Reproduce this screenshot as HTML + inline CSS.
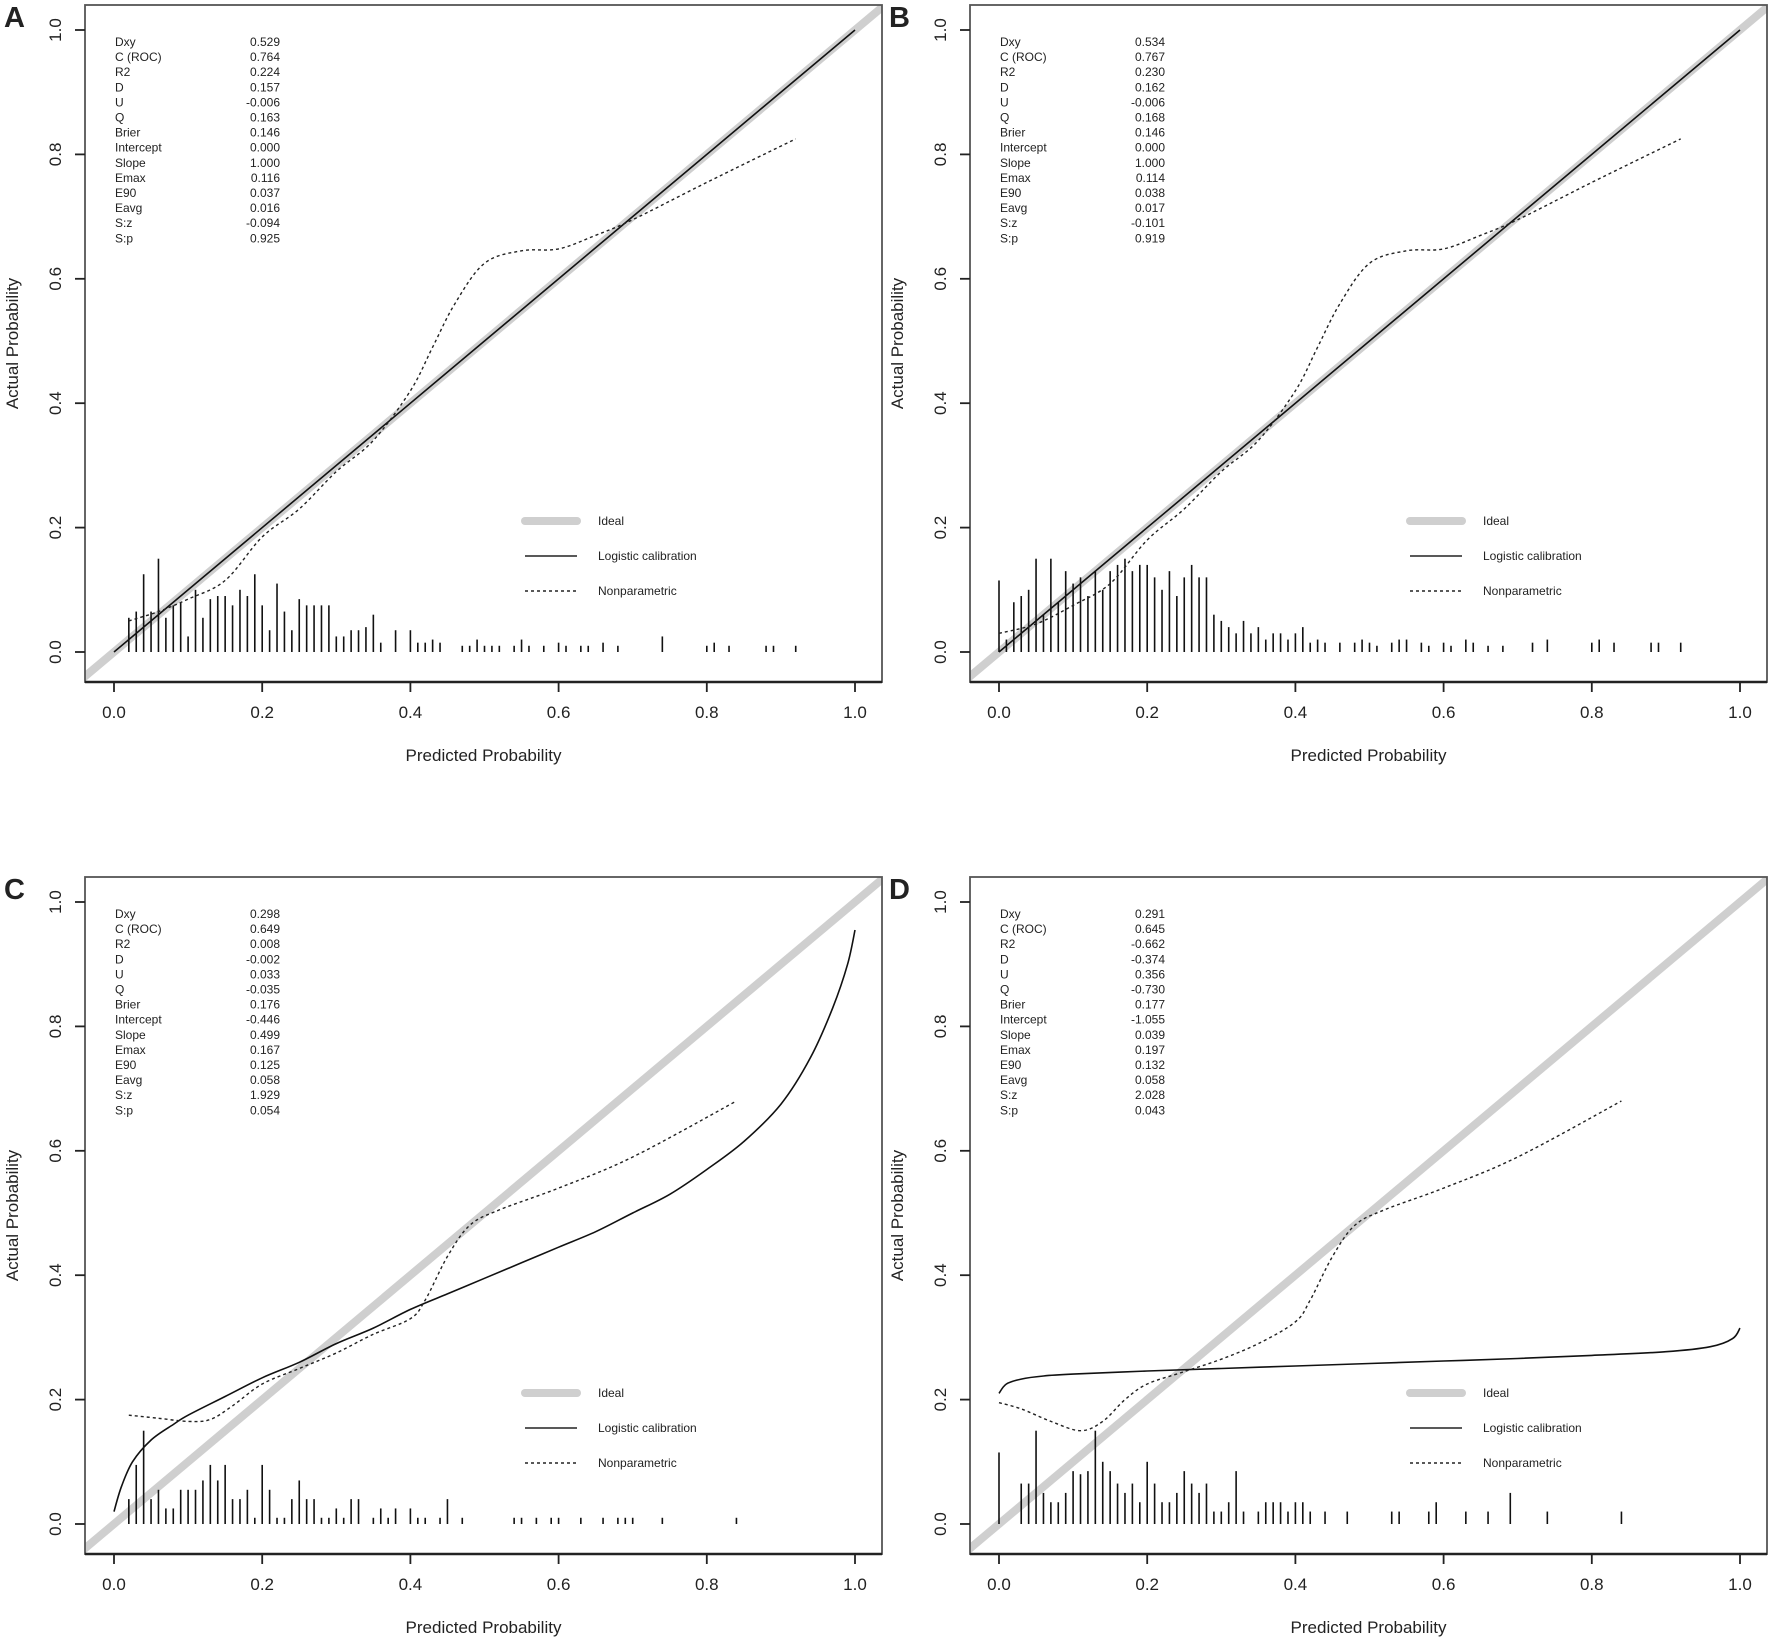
<!DOCTYPE html>
<html><head><meta charset="utf-8"><style>
html,body{margin:0;padding:0;background:#fff}
svg{display:block}
text{font-family:"Liberation Sans",Arial,sans-serif;fill:#222}
</style></head><body>
<svg id="s" width="1772" height="1642" viewBox="0 0 1772 1642" xmlns="http://www.w3.org/2000/svg"></svg>
<script>
const S=document.getElementById('s');let h='';
const panels=[
 {L:'A',ox:0,oy:0,stats:['0.529','0.764','0.224','0.157','-0.006','0.163','0.146','0.000','1.000','0.116','0.037','0.016','-0.094','0.925'],
  log:[[0,0],[1,1]],
  np:[[0.02,0.05],[0.06,0.065],[0.1,0.085],[0.15,0.115],[0.2,0.185],[0.25,0.23],[0.3,0.29],[0.35,0.34],[0.4,0.42],[0.43,0.49],[0.46,0.56],[0.5,0.625],[0.55,0.645],[0.6,0.648],[0.65,0.67],[0.7,0.695],[0.8,0.755],[0.92,0.825]],
  rug:[[.02,.055],[.03,.065],[.04,.125],[.05,.065],[.06,.15],[.07,.055],[.08,.075],[.09,.08],[.10,.025],[.11,.10],[.12,.055],[.13,.085],[.14,.09],[.15,.09],[.16,.075],[.17,.10],[.18,.09],[.19,.125],[.20,.075],[.21,.035],[.22,.11],[.23,.065],[.24,.035],[.25,.085],[.26,.075],[.27,.075],[.28,.075],[.29,.075],[.30,.025],[.31,.025],[.32,.035],[.33,.035],[.34,.04],[.35,.06],[.36,.015],[.38,.035],[.40,.035],[.41,.015],[.42,.015],[.43,.02],[.44,.015],[.47,.01],[.48,.01],[.49,.02],[.50,.01],[.51,.01],[.52,.01],[.54,.01],[.55,.02],[.56,.01],[.58,.01],[.60,.015],[.61,.01],[.63,.01],[.64,.01],[.66,.015],[.68,.01],[.74,.025],[.80,.01],[.81,.015],[.83,.01],[.88,.01],[.89,.01],[.92,.01]]},
 {L:'B',ox:885,oy:0,stats:['0.534','0.767','0.230','0.162','-0.006','0.168','0.146','0.000','1.000','0.114','0.038','0.017','-0.101','0.919'],
  log:[[0,0],[1,1]],
  np:[[0,0.03],[0.05,0.045],[0.1,0.075],[0.15,0.11],[0.2,0.18],[0.25,0.23],[0.3,0.29],[0.35,0.34],[0.4,0.42],[0.43,0.49],[0.46,0.56],[0.5,0.625],[0.55,0.645],[0.6,0.648],[0.65,0.67],[0.7,0.695],[0.8,0.755],[0.92,0.825]],
  rug:[[0,.115],[.01,.02],[.02,.08],[.03,.09],[.04,.10],[.05,.15],[.06,.06],[.07,.15],[.08,.08],[.09,.13],[.10,.11],[.11,.12],[.12,.09],[.13,.13],[.14,.10],[.15,.13],[.16,.14],[.17,.15],[.18,.13],[.19,.14],[.20,.14],[.21,.12],[.22,.10],[.23,.13],[.24,.09],[.25,.12],[.26,.14],[.27,.12],[.28,.12],[.29,.06],[.30,.05],[.31,.04],[.32,.03],[.33,.05],[.34,.03],[.35,.04],[.36,.02],[.37,.03],[.38,.03],[.39,.02],[.40,.03],[.41,.04],[.42,.015],[.43,.02],[.44,.015],[.46,.015],[.48,.015],[.49,.02],[.50,.015],[.51,.01],[.53,.015],[.54,.02],[.55,.02],[.57,.015],[.58,.01],[.60,.015],[.61,.01],[.63,.02],[.64,.015],[.66,.01],[.68,.01],[.72,.015],[.74,.02],[.80,.015],[.81,.02],[.83,.015],[.88,.015],[.89,.015],[.92,.015]]},
 {L:'C',ox:0,oy:872,stats:['0.298','0.649','0.008','-0.002','0.033','-0.035','0.176','-0.446','0.499','0.167','0.125','0.058','1.929','0.054'],
  log:[[0,0.02],[0.01,0.06],[0.025,0.1],[0.05,0.135],[0.08,0.16],[0.1,0.175],[0.15,0.205],[0.2,0.235],[0.25,0.26],[0.3,0.29],[0.35,0.315],[0.4,0.345],[0.45,0.37],[0.5,0.395],[0.55,0.42],[0.6,0.445],[0.65,0.47],[0.7,0.5],[0.75,0.53],[0.8,0.57],[0.85,0.615],[0.9,0.675],[0.94,0.75],[0.97,0.83],[0.99,0.9],[1.0,0.955]],
  np:[[0.02,0.175],[0.06,0.17],[0.1,0.165],[0.13,0.168],[0.16,0.19],[0.2,0.225],[0.25,0.25],[0.3,0.275],[0.35,0.305],[0.4,0.33],[0.42,0.36],[0.45,0.43],[0.48,0.48],[0.52,0.505],[0.6,0.54],[0.7,0.59],[0.84,0.68]],
  rug:[[.02,.04],[.03,.095],[.04,.15],[.05,.04],[.06,.055],[.07,.025],[.08,.025],[.09,.055],[.10,.055],[.11,.055],[.12,.07],[.13,.095],[.14,.07],[.15,.095],[.16,.04],[.17,.04],[.18,.055],[.19,.01],[.20,.095],[.21,.055],[.22,.01],[.23,.01],[.24,.04],[.25,.07],[.26,.04],[.27,.04],[.28,.01],[.29,.01],[.30,.025],[.31,.01],[.32,.04],[.33,.04],[.35,.01],[.36,.025],[.37,.01],[.38,.025],[.40,.025],[.41,.01],[.42,.01],[.44,.01],[.45,.04],[.47,.01],[.54,.01],[.55,.01],[.57,.01],[.59,.01],[.60,.01],[.63,.01],[.66,.01],[.68,.01],[.69,.01],[.70,.01],[.74,.01],[.84,.01]]},
 {L:'D',ox:885,oy:872,stats:['0.291','0.645','-0.662','-0.374','0.356','-0.730','0.177','-1.055','0.039','0.197','0.132','0.058','2.028','0.043'],
  log:[[0,0.21],[0.01,0.225],[0.03,0.233],[0.06,0.238],[0.1,0.241],[0.2,0.246],[0.3,0.25],[0.4,0.254],[0.5,0.258],[0.6,0.262],[0.7,0.266],[0.8,0.271],[0.9,0.277],[0.96,0.285],[0.99,0.298],[1.0,0.315]],
  np:[[0,0.195],[0.03,0.185],[0.07,0.165],[0.11,0.15],[0.14,0.165],[0.17,0.2],[0.2,0.225],[0.25,0.245],[0.3,0.265],[0.35,0.29],[0.4,0.325],[0.42,0.36],[0.45,0.43],[0.48,0.48],[0.52,0.505],[0.6,0.54],[0.7,0.59],[0.84,0.68]],
  rug:[[0,.115],[.03,.065],[.04,.065],[.05,.15],[.06,.05],[.07,.035],[.08,.035],[.09,.05],[.10,.085],[.11,.08],[.12,.085],[.13,.15],[.14,.10],[.15,.085],[.16,.065],[.17,.05],[.18,.065],[.19,.035],[.20,.10],[.21,.065],[.22,.035],[.23,.035],[.24,.05],[.25,.085],[.26,.065],[.27,.05],[.28,.065],[.29,.02],[.30,.02],[.31,.035],[.32,.085],[.33,.02],[.35,.02],[.36,.035],[.37,.035],[.38,.035],[.39,.02],[.40,.035],[.41,.035],[.42,.02],[.44,.02],[.47,.02],[.53,.02],[.54,.02],[.58,.02],[.59,.035],[.63,.02],[.66,.02],[.69,.05],[.74,.02],[.84,.02]]}
];
const names=['Dxy','C (ROC)','R2','D','U','Q','Brier','Intercept','Slope','Emax','E90','Eavg','S:z','S:p'];
for(const P of panels){
 const x0=114+P.ox,x1=855+P.ox,y0=652+P.oy,y1=30+P.oy;
 const X=p=>x0+p*(x1-x0),Y=p=>y0-p*(y0-y1);
 const bl=85+P.ox,br=882+P.ox,bt=5+P.oy,bb=682+P.oy;
 const id='c'+P.L;
 h+=`<clipPath id="${id}"><rect x="${bl}" y="${bt}" width="${br-bl}" height="${bb-bt}"/></clipPath>`;
 h+=`<line x1="${X(-0.1)}" y1="${Y(-0.1)}" x2="${X(1.1)}" y2="${Y(1.1)}" stroke="#cfcfcf" stroke-width="8" clip-path="url(#${id})"/>`;
 for(const [p,v] of P.rug) h+=`<line x1="${X(p)}" y1="${y0}" x2="${X(p)}" y2="${Y(v)}" stroke="#111" stroke-width="1.6"/>`;
 const path=a=>{const q=a.map(t=>[X(t[0]),Y(t[1])]);let d='M'+q[0][0].toFixed(1)+' '+q[0][1].toFixed(1);
  for(let i=0;i<q.length-1;i++){const p0=q[Math.max(0,i-1)],p1=q[i],p2=q[i+1],p3=q[Math.min(q.length-1,i+2)];
   const c1=[p1[0]+(p2[0]-p0[0])/6,p1[1]+(p2[1]-p0[1])/6],c2=[p2[0]-(p3[0]-p1[0])/6,p2[1]-(p3[1]-p1[1])/6];
   d+=` C${c1[0].toFixed(1)} ${c1[1].toFixed(1)} ${c2[0].toFixed(1)} ${c2[1].toFixed(1)} ${p2[0].toFixed(1)} ${p2[1].toFixed(1)}`;}
  return d;};
 h+=`<path d="${path(P.log)}" fill="none" stroke="#111" stroke-width="1.6" stroke-linejoin="round"/>`;
 h+=`<path d="${path(P.np)}" fill="none" stroke="#222" stroke-width="1.4" stroke-dasharray="3,3"/>`;
 h+=`<rect x="${bl}" y="${bt}" width="${br-bl}" height="${bb-bt}" fill="none" stroke="#555" stroke-width="1.8"/>`;
 h+=`<line x1="${bl}" y1="${bb}" x2="${br}" y2="${bb}" stroke="#222" stroke-width="2.5"/>`;
 for(let i=0;i<=5;i++){const v=i/5;
  h+=`<line x1="${X(v)}" y1="${bb}" x2="${X(v)}" y2="${bb+10}" stroke="#222" stroke-width="1.8"/>`;
  h+=`<text x="${X(v)}" y="${bb+36}" font-size="17" text-anchor="middle">${v.toFixed(1)}</text>`;
  h+=`<line x1="${bl}" y1="${Y(v)}" x2="${bl-10}" y2="${Y(v)}" stroke="#222" stroke-width="1.8"/>`;
  h+=`<text transform="translate(${bl-24},${Y(v)}) rotate(-90)" font-size="17" text-anchor="middle">${v.toFixed(1)}</text>`;
 }
 h+=`<text x="${(bl+br)/2}" y="${P.oy+761}" font-size="17" text-anchor="middle">Predicted Probability</text>`;
 h+=`<text transform="translate(${P.ox+18},${(bt+bb)/2}) rotate(-90)" font-size="17" text-anchor="middle">Actual Probability</text>`;
 h+=`<text x="${P.ox+4}" y="${P.oy+27}" font-size="29" font-weight="bold" fill="#000">${P.L}</text>`;
 names.forEach((n,i)=>{const y=P.oy+46+i*15.1;
  h+=`<text x="${P.ox+115}" y="${y}" font-size="12">${n}</text><text x="${P.ox+280}" y="${y}" font-size="12" text-anchor="end">${P.stats[i]}</text>`;});
 const lx=P.ox+525;
 h+=`<line x1="${lx}" y1="${P.oy+521}" x2="${lx+52}" y2="${P.oy+521}" stroke="#cfcfcf" stroke-width="8" stroke-linecap="round"/>`;
 h+=`<line x1="${lx}" y1="${P.oy+556}" x2="${lx+52}" y2="${P.oy+556}" stroke="#222" stroke-width="1.6"/>`;
 h+=`<line x1="${lx}" y1="${P.oy+591}" x2="${lx+52}" y2="${P.oy+591}" stroke="#222" stroke-width="1.4" stroke-dasharray="3,3"/>`;
 [['Ideal',521],['Logistic calibration',556],['Nonparametric',591]].forEach(([t,y])=>{h+=`<text x="${lx+73}" y="${P.oy+y+4}" font-size="12">${t}</text>`;});
}
S.innerHTML=h;
</script>
</body></html>
